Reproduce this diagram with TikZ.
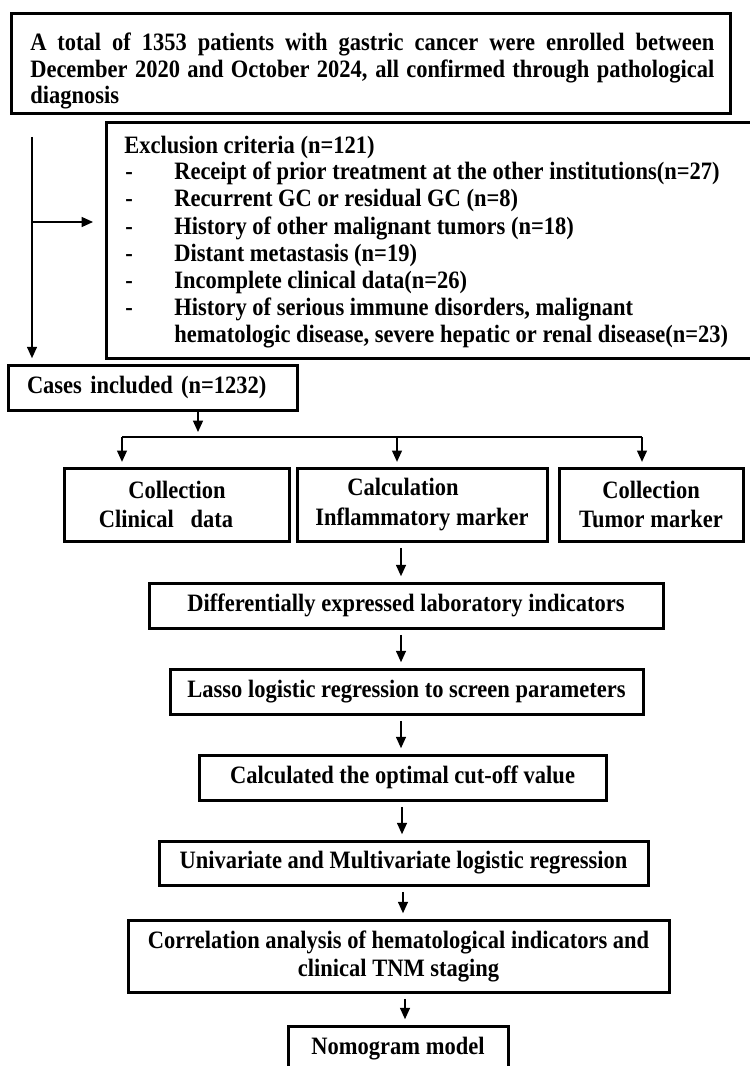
\documentclass[tikz,border=0pt]{standalone}
\usepackage{fontspec}
\setmainfont{Liberation Serif}[FakeStretch=0.9]
\usetikzlibrary{arrows.meta}
\newcommand{\diagfont}{\fontsize{18.75pt}{20.25pt}\selectfont\bfseries}
\newcommand{\topfont}{\fontsize{18.75pt}{19.75pt}\selectfont\bfseries}
\newcommand{\twofont}{\fontsize{18.75pt}{21pt}\selectfont\bfseries}
\newcommand{\threefont}{\fontsize{18.75pt}{22pt}\selectfont\bfseries}
\begin{document}
\begin{tikzpicture}[x=0.75pt,y=-0.75pt,
  box/.style={draw, line width=2.25pt, inner sep=0pt, align=center, font=\diagfont},
  conn/.style={line width=1pt},
  arr/.style={conn, -{Triangle[width=7.5pt,length=8.5pt]}},
  flow/.style={arr, shorten <=4pt, shorten >=4pt},
  lbl/.style={inner sep=0pt, anchor=base west, font=\diagfont}]
\useasboundingbox (0,0) rectangle (749,1066);

% top box
\node[box, minimum width=539.25pt, minimum height=74.625pt] (top) at (370.5,63.75) {};
\node[lbl, text width=513pt, align=justify, font=\topfont] (topText) at (30,51)
  {A total of 1353 patients with gastric cancer were enrolled between\linebreak
   December 2020 and October 2024, all confirmed through pathological\linebreak
   diagnosis};

% exclusion box
\node[box, minimum width=484.5pt, minimum height=176.25pt] (excl) at (429,240.5) {};
\node[lbl] (exTitle) at (124,153.5) {Exclusion criteria (n=121)};
\node[lbl] (d1) at (125,180) {-};
\node[lbl] (d2) at (125,207) {-};
\node[lbl] (d3) at (125,234) {-};
\node[lbl] (d4) at (125,261) {-};
\node[lbl] (d5) at (125,288) {-};
\node[lbl] (d6) at (125,315) {-};
\node[lbl] (e1) at (174,180) {Receipt of prior treatment at the other institutions(n=27)};
\node[lbl] (e2) at (174,207) {Recurrent GC or residual GC (n=8)};
\node[lbl] (e3) at (174,234) {History of other malignant tumors (n=18)};
\node[lbl] (e4) at (174,261) {Distant metastasis (n=19)};
\node[lbl] (e5) at (174,288) {Incomplete clinical data(n=26)};
\node[lbl] (e6) at (174,315) {History of serious immune disorders, malignant};
\node[lbl] (e7) at (174,342) {hematologic disease, severe hepatic or renal disease(n=23)};

% cases
\node[box, minimum width=216.75pt, minimum height=33.75pt, text width=188.25pt, align=left]
  (cases) at (152.5,387.5) {Cases included (n=1232)};

% three boxes
\node[box, minimum width=168.75pt, minimum height=54.75pt, font=\threefont] (b1) at (177,504.5)
  {Collection\\Clinical\ \ \ data\hspace*{16.5pt}};
\node[box, minimum width=187.5pt, minimum height=54.75pt, font=\threefont] (b2) at (422,504.5)
  {Calculation\hspace*{28.5pt}\\Inflammatory marker};
\node[box, minimum width=138pt, minimum height=54.75pt, font=\threefont] (b3) at (651,504.5)
  {Collection\\Tumor marker};

% lower chain
\node[box, minimum width=385.5pt, minimum height=33.75pt] (diff) at (406,605.5)
  {Differentially expressed laboratory indicators};
\node[box, minimum width=354.75pt, minimum height=33.75pt] (lasso) at (406.5,691.5)
  {Lasso logistic regression to screen parameters};
\node[box, minimum width=305.25pt, minimum height=33.75pt] (calc) at (402.5,777.5)
  {Calculated the optimal cut-off value};
\node[box, minimum width=366.75pt, minimum height=33pt] (univ) at (403.5,863)
  {Univariate and Multivariate logistic regression};
\node[box, minimum width=405.75pt, minimum height=54pt, font=\twofont] (corr) at (398.5,956)
  {Correlation analysis of hematological indicators and\\clinical TNM staging};
\node[box, minimum width=165pt, minimum height=33.75pt] (nomo) at (398,1048.5)
  {Nomogram model};

% connectors, top part
\coordinate (vTop) at (32,137);
\coordinate (vBr) at (32,222);
\coordinate (exTip) at (93,222);
\draw[arr, shorten >=4pt] (vTop) -- (vTop |- cases.north);
\draw[arr] (vBr) -- (exTip);

\coordinate (xc) at (198,0);
\coordinate (cTip) at (198,432);
\draw[arr] (xc |- cases.south) -- (cTip);
\coordinate (bL) at (122,437);
\coordinate (bM) at (397,437);
\coordinate (bR) at (642,437);
\draw[conn] (bL) -- (bR);
\draw[arr, shorten >=3.5pt] (bL) -- (bL |- b1.north);
\draw[arr, shorten >=3.5pt] (bM) -- (bM |- b2.north);
\draw[arr, shorten >=3.5pt] (bR) -- (bR |- b3.north);

% connectors, lower chain
\coordinate (a1) at (401,0);
\coordinate (a4) at (402,0);
\coordinate (a5) at (403,0);
\coordinate (a6) at (405,0);
\draw[flow] (a1 |- b2.south) -- (a1 |- diff.north);
\draw[flow] (a1 |- diff.south) -- (a1 |- lasso.north);
\draw[flow] (a1 |- lasso.south) -- (a1 |- calc.north);
\draw[flow] (a4 |- calc.south) -- (a4 |- univ.north);
\draw[flow] (a5 |- univ.south) -- (a5 |- corr.north);
\draw[flow] (a6 |- corr.south) -- (a6 |- nomo.north);
\end{tikzpicture}
\end{document}
